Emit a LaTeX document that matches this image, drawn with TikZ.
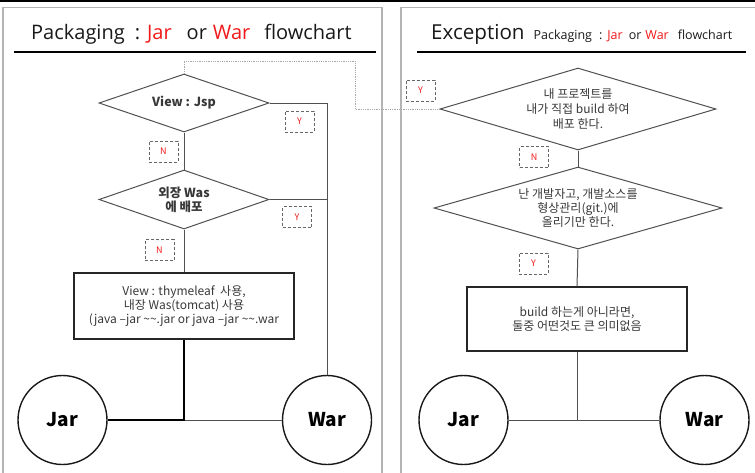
\documentclass[tikz,border=0pt]{standalone}
\usepackage{fontspec}
\setmainfont{Noto Sans CJK KR}
\newfontfamily\titlefont{Open Sans}
\usetikzlibrary{shapes.geometric}
\definecolor{lineg}{HTML}{505050}
\definecolor{frameg}{HTML}{B4B4B4}
\definecolor{redt}{HTML}{F01818}
\definecolor{txtg}{HTML}{383838}
\definecolor{dotg}{HTML}{A8A8A8}
\tikzset{
  conn/.style={draw=lineg, line width=1pt},
  thickconn/.style={draw=black, line width=2.2pt},
  decision/.style={diamond, draw=lineg, line width=1pt, inner sep=0pt, align=center, text=txtg},
  procbox/.style={rectangle, draw=black!85, line width=1.4pt, inner sep=0pt, align=center, text=txtg,
    minimum width=220pt, font=\fontsize{12}{14.4}\selectfont},
  endcircle/.style={circle, draw=black!90, line width=1.4pt, inner sep=0pt, minimum size=89pt,
    font=\bfseries\fontsize{19}{22}\selectfont},
  yn/.style={rectangle, draw=black!60, densely dashed, line width=0.7pt, minimum width=29pt,
    minimum height=21pt, inner sep=0pt, text=redt, font=\fontsize{9}{10}\selectfont},
  frame/.style={draw=frameg, line width=1.2pt},
  uline/.style={draw=black, line width=1.5pt},
  dotline/.style={draw=dotg, line width=0.8pt, densely dotted},
}
\begin{document}
\begin{tikzpicture}[x=1pt,y=-1pt]
\useasboundingbox (0,0) rectangle (755,472);
% top bar and frames
\draw[black, line width=2pt] (0,1) -- (755,1);
\draw[frame] (3,480) -- (3,7.5) -- (382,7.5) -- (382,480);
\draw[frame] (401,480) -- (401,7.5) -- (760,7.5);
% titles
\node[anchor=base west, inner sep=0pt, font=\titlefont\fontsize{20}{24}\selectfont, text=black!90] (t1) at (31,39.5)
  {Packaging\hspace{10pt}:\hspace{7pt}{\color{redt}Jar}\hspace{15pt}or\hspace{6pt}{\color{redt}War}\hspace{14pt}flowchart};
\draw[uline] (14,52) -- (376,52);
\node[anchor=base west, inner sep=0pt, text=black!90, font=\titlefont] (t2) at (431,39.5)
  {{\fontsize{20.6}{24}\selectfont Exception}\hspace{9pt}{\fontsize{12.5}{15}\selectfont Packaging\hspace{7pt}:\hspace{5pt}{\color{redt}Jar}\hspace{6pt}or\hspace{4pt}{\color{redt}War}\hspace{9pt}flowchart}};
\draw[uline] (417,52) -- (746,52);

% left flowchart
\node[decision, shape aspect=2.93, minimum width=170pt, minimum height=58pt,
  font=\bfseries\fontsize{12.5}{14}\selectfont] (d1) at (184,103) {View : Jsp};
\node[decision, shape aspect=2.93, minimum width=170pt, minimum height=59pt,
  font=\bfseries\fontsize{12.5}{14}\selectfont] (d2) at (184,199.5) {외장 Was\\에 배포};
\node[procbox, minimum height=66pt] (r1) at (184,306)
  {View : thymeleaf\ \ 사용,\\내장 Was(tomcat) 사용\\(java –jar \textasciitilde\textasciitilde.jar or java –jar \textasciitilde\textasciitilde.war};
\node[endcircle] (jar1) at (62.5,420) {Jar};
\node[endcircle] (war1) at (327,420) {War};

\node[yn] (y1) at (299.5,121.5) {Y};
\node[yn] (n1) at (163.5,151.5) {N};
\node[yn] (y2) at (297,217) {Y};
\node[yn] (n2) at (159.5,250) {N};

\draw[conn] (d1.south) -- (d2.north);
\draw[conn] (d2.south) -- (r1.north);
\draw[conn] (d1.east) -| (war1.north);
\draw[conn] (d2.east) -- (d2.east -| war1.north);
\coordinate (jn1) at (r1.south |- jar1.east);
\draw[conn] (jn1) -- (war1.west);
\draw[thickconn] (r1.south) -- (jn1) -- (jar1.east);

% right flowchart
\node[decision, shape aspect=3.37, minimum width=276pt, minimum height=82pt,
  font=\fontsize{12}{15}\selectfont] (d3) at (578,109)
  {내 프로젝트를\\내가 직접 build 하여\\배포 한다.};
\node[decision, shape aspect=3.5, minimum width=288pt, minimum height=82pt,
  font=\fontsize{12}{14.2}\selectfont] (d4) at (578,208)
  {난 개발자고, 개발소스를\\형상관리(git.)에\\올리기만 한다.};
\node[procbox, minimum height=64pt] (r2) at (577,319)
  {build 하는게 아니라면,\\둘중 어떤것도 큰 의미없음};
\node[endcircle] (jar2) at (463.5,420) {Jar};
\node[endcircle] (war2) at (704.5,420) {War};

\node[yn] (y3) at (420.5,90.5) {Y};
\node[yn] (n3) at (534,157) {N};
\node[yn] (y4) at (533.5,263.5) {Y};

\draw[conn] (d3.south) -- (d4.north);
\draw[conn] (d4.south) -- (r2.north);
\coordinate (jn2) at (r2.south |- jar2.east);
\draw[conn] (r2.south) -- (jn2);
\draw[conn] (jar2.east) -- (war2.west);

% dotted link between panels
\coordinate (bend) at (355,61);
\draw[dotline] (d1.north) |- (bend) |- (d3.west);
\end{tikzpicture}
\end{document}
